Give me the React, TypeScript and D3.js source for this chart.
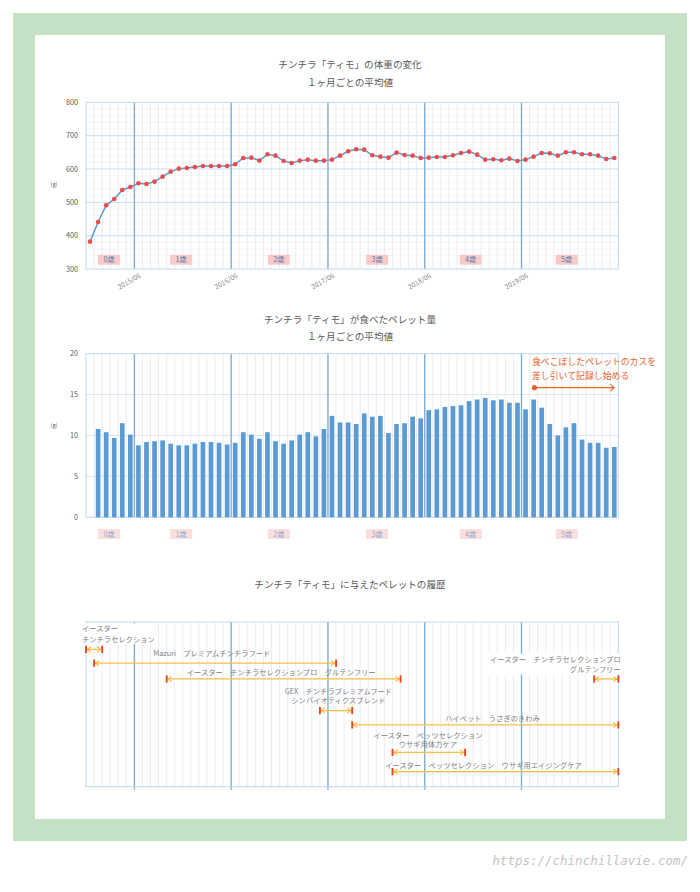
import React from 'react';
import * as d3 from 'd3';

// ---------- data ----------
const months = d3.timeMonth.range(new Date(2014, 11, 1), new Date(2020, 5, 1)); // 2014/12 .. 2020/05 (66)
const yearTickMonths = [6, 18, 30, 42, 54];
const yearTickLabels = ['2015/06', '2016/06', '2017/06', '2018/06', '2019/06'];
const ageLabels = ['0歳', '1歳', '2歳', '3歳', '4歳', '5歳'];
const ageCenters = [2.85, 11.8, 23.9, 36.1, 47.7, 59.6];

const weightTicks = [300, 400, 500, 600, 700, 800];
const weight = [
  382, 441, 491, 510, 537, 546, 557, 555, 562, 577,
  592, 601, 603, 606, 609, 609, 609, 609, 614, 633,
  634, 625, 644, 640, 624, 618, 625, 628, 625, 625,
  628, 640, 653, 659, 658, 641, 637, 634, 649, 642,
  640, 633, 634, 636, 636, 641, 648, 652, 643, 628,
  629, 626, 631, 624, 628, 637, 648, 647, 640, 650,
  650, 644, 644, 640, 630, 633,
];

const pelletTicks = [0, 5, 10, 15, 20];
const pellet: (number | null)[] = [
  null, 10.8, 10.4, 9.7, 11.5, 10.1, 8.8, 9.2, 9.3, 9.4,
  9.0, 8.8, 8.8, 9.0, 9.2, 9.2, 9.1, 8.9, 9.1, 10.4,
  10.1, 9.6, 10.4, 9.3, 9.0, 9.4, 10.1, 10.4, 9.9, 10.8,
  12.4, 11.6, 11.6, 11.4, 12.7, 12.3, 12.4, 10.3, 11.4, 11.5,
  12.3, 12.1, 13.1, 13.2, 13.5, 13.6, 13.7, 14.2, 14.4, 14.6,
  14.3, 14.4, 14.0, 14.0, 13.2, 14.4, 13.4, 11.4, 10.0, 11.0,
  11.5, 9.5, 9.1, 9.1, 8.5, 8.6,
];
const noteLines = ['食べこぼしたペレットのカスを', '差し引いて記録し始める'];
const noteStart = 55.6;
const noteEnd = 65.5;
const noteLevel = 15.85;

const historyNames = [
  ['イースター', 'チンチラセレクション'],
  ['Mazuri　プレミアムチンチラフード'],
  ['イースター　チンチラセレクションプロ　グルテンフリー'],
  ['GEX　チンチラプレミアムフード', 'シンバイオティクスブレンド'],
  ['ハイペット　うさぎのきわみ'],
  ['イースター　ペッツセレクション', 'ウサギ用体力ケア'],
  ['イースター　ペッツセレクション　ウサギ用エイジングケア'],
  ['イースター　チンチラセレクションプロ', 'グルテンフリー'],
];
const historyStart = [0, 1, 10, 29, 33, 38, 38, 63];
const historyEnd = [2, 31, 39, 33, 66, 47, 66, 66];
const historyLevel = [2.0, 3.0, 4.15, 6.45, 7.5, 9.5, 10.9, 4.15];

// label layout (month / level units)
const historyLabelLayout = [
  { x: -0.5, y: [0.44, 1.24], anchor: 'start', bg: true },
  { x: 15.6, y: [2.31], anchor: 'middle', bg: false },
  { x: 24.2, y: [3.66], anchor: 'middle', bg: false },
  { x: 31.3, y: [5.03, 5.73], anchor: 'middle', bg: false },
  { x: 50.4, y: [7.05], anchor: 'middle', bg: false },
  { x: 42.4, y: [8.23, 8.91], anchor: 'middle', bg: false },
  { x: 37.1, y: [10.47], anchor: 'start', bg: false },
  { x: 66.3, y: [2.72, 3.45], anchor: 'end', bg: true },
];

// ---------- styling ----------
const FONT = "'Noto Sans CJK JP','Noto Sans',sans-serif";
const GREEN = '#c5e1c5';
const BORDER = '#c0d8ee';
const MINOR = '#e3e9ef';
const YEAR = '#80aed3';
const TEXT = '#595959';

const N = months.length;
const x = d3.scaleLinear().domain([0, N]).range([86, 618.3]);
const monthLines = d3.range(1, N).filter((k) => !yearTickMonths.includes(k));

function VGrid({ top, bottom, ext = 0 }: { top: number; bottom: number; ext?: number }) {
  return (
    <g>
      {monthLines.map((k) => (
        <line key={k} x1={x(k)} x2={x(k)} y1={top} y2={bottom} stroke={MINOR} strokeWidth={0.8} />
      ))}
      {yearTickMonths.map((k) => (
        <line key={'y' + k} x1={x(k)} x2={x(k)} y1={top} y2={bottom + ext} stroke={YEAR} strokeWidth={1.4} />
      ))}
    </g>
  );
}

function AgeBoxes({ cy, fill, color }: { cy: number; fill: string; color: string }) {
  return (
    <g>
      {ageLabels.map((t, i) => (
        <g key={t}>
          <rect x={x(ageCenters[i]) - 11} y={cy - 5} width={22} height={10} fill={fill} />
          <text x={x(ageCenters[i])} y={cy} dy="0.35em" textAnchor="middle" fontSize={7.2} fill={color} fontFamily={FONT}>
            {t}
          </text>
        </g>
      ))}
    </g>
  );
}

function Title({ lines, cy }: { lines: string[]; cy: number[] }) {
  return (
    <g>
      {lines.map((l, i) => (
        <text key={i} x={350} y={cy[i]} dy="0.35em" textAnchor="middle" fontSize={9.6} fill={TEXT} fontFamily={FONT}>
          {l}
        </text>
      ))}
    </g>
  );
}

function WeightChart() {
  const top = 102.3, bottom = 269;
  const y = d3.scaleLinear().domain([300, 800]).range([bottom, top]);
  const minorH = d3.range(320, 800, 20).filter((v) => v % 100 !== 0);
  const line = d3
    .line<number>()
    .x((_, i) => x(i + 0.5))
    .y((v) => y(v));
  return (
    <g>
      <Title lines={['チンチラ「ティモ」の体重の変化', '１ヶ月ごとの平均値']} cy={[65, 82.3]} />
      {minorH.map((v) => (
        <line key={v} x1={x(0)} x2={x(N)} y1={y(v)} y2={y(v)} stroke="#eef2f7" strokeWidth={0.7} />
      ))}
      {weightTicks.slice(1, -1).map((v) => (
        <line key={v} x1={x(0)} x2={x(N)} y1={y(v)} y2={y(v)} stroke="#c8dcf0" strokeWidth={1} />
      ))}
      <VGrid top={top} bottom={bottom} />
      <rect x={x(0)} y={top} width={x(N) - x(0)} height={bottom - top} fill="none" stroke={BORDER} strokeWidth={1} />
      <AgeBoxes cy={259.7} fill="#f8cac7" color="#5a7fb0" />
      <path d={line(weight) || ''} fill="none" stroke="#5b9bd5" strokeWidth={1.5} />
      {weight.map((v, i) => (
        <circle key={i} cx={x(i + 0.5)} cy={y(v)} r={2.3} fill="#ef4b4b" />
      ))}
      {weightTicks.map((v) => (
        <text key={v} x={78} y={y(v)} dy="0.35em" textAnchor="end" fontSize={7.2} fill={TEXT} fontFamily={FONT}>
          {v}
        </text>
      ))}
      <text x={54} y={184} dy="0.35em" textAnchor="middle" fontSize={5.5} fill={TEXT} fontFamily={FONT}>
        (g)
      </text>
      {yearTickMonths.map((k, i) => (
        <text
          key={k}
          transform={`translate(${x(k) + 7},${277}) rotate(-30)`}
          textAnchor="end"
          fontSize={6.8}
          fill="#7f7f7f"
          fontFamily={FONT}
        >
          {yearTickLabels[i]}
        </text>
      ))}
    </g>
  );
}

function PelletChart() {
  const top = 353.7, bottom = 517.3;
  const y = d3.scaleLinear().domain([0, 20]).range([bottom, top]);
  const bw = (x(1) - x(0)) * 0.58;
  const nx1 = x(noteStart), nx2 = x(noteEnd), ny = y(noteLevel);
  return (
    <g>
      <Title lines={['チンチラ「ティモ」が食べたペレット量', '１ヶ月ごとの平均値']} cy={[320, 336.7]} />
      {pelletTicks.slice(1, -1).map((v) => (
        <line key={v} x1={x(0)} x2={x(N)} y1={y(v)} y2={y(v)} stroke="#dbe5ef" strokeWidth={1} />
      ))}
      <VGrid top={top} bottom={bottom} />
      <rect x={x(0)} y={top} width={x(N) - x(0)} height={bottom - top} fill="none" stroke={BORDER} strokeWidth={1} />
      {pellet.map((v, i) =>
        v == null ? null : (
          <rect key={i} x={x(i + 0.5) - bw / 2} y={y(v)} width={bw} height={y(0) - y(v)} fill="#5b9bd5" />
        )
      )}
      {pelletTicks.map((v) => (
        <text key={v} x={78} y={y(v)} dy="0.35em" textAnchor="end" fontSize={7.2} fill={TEXT} fontFamily={FONT}>
          {v}
        </text>
      ))}
      <text x={54} y={425} dy="0.35em" textAnchor="middle" fontSize={5.5} fill={TEXT} fontFamily={FONT}>
        (g)
      </text>
      <AgeBoxes cy={534} fill="#fbdedc" color="#8eaad0" />
      {noteLines.map((l, i) => (
        <text key={i} x={532} y={362.3 + i * 13.4} dy="0.35em" fontSize={8.9} fill="#e8632b" fontFamily={FONT}>
          {l}
        </text>
      ))}
      <line x1={nx1} x2={nx2} y1={ny} y2={ny} stroke="#e8632b" strokeWidth={1.2} />
      <circle cx={nx1} cy={ny} r={2.6} fill="#e8632b" />
      <polyline
        points={`${nx2 - 4},${ny - 3.5} ${nx2},${ny} ${nx2 - 4},${ny + 3.5}`}
        fill="none"
        stroke="#e8632b"
        strokeWidth={1.1}
      />
    </g>
  );
}

function HistoryChart() {
  const top = 622, bottom = 786.7;
  const y = d3.scaleLinear().domain([0, 12]).range([top, bottom]);
  const fs = 7.3;
  const ARROW = '#fbbd45';
  const CAP = '#e4481f';
  return (
    <g>
      <Title lines={['チンチラ「ティモ」に与えたペレットの履歴']} cy={[585]} />
      <VGrid top={top} bottom={bottom} ext={3} />
      <rect x={x(0)} y={top} width={x(N) - x(0)} height={bottom - top} fill="none" stroke={BORDER} strokeWidth={1} />
      {historyNames.map((lines, i) => {
        const L = historyLabelLayout[i];
        if (!L.bg) return null;
        const w = d3.max(lines, (l) => l.length * fs) || 0;
        const lx = x(L.x);
        const x0 = L.anchor === 'start' ? lx - 1 : L.anchor === 'end' ? lx - w - 2 : lx - w / 2 - 1;
        const y0 = y(L.y[0]) - 5.5;
        const y1 = y(L.y[L.y.length - 1]) + 5;
        return <rect key={'bg' + i} x={x0} y={Math.max(y0, top + 1.5)} width={w + 3} height={y1 - Math.max(y0, top + 1.5)} fill="#fff" />;
      })}
      {historyNames.map((lines, i) => {
        const x1 = x(historyStart[i]);
        const x2 = x(historyEnd[i]);
        const yy = y(historyLevel[i]);
        return (
          <g key={i}>
            <line x1={x1} x2={x2} y1={yy} y2={yy} stroke={ARROW} strokeWidth={1.3} />
            <polyline points={`${x1 + 5},${yy - 2.6} ${x1 + 1.5},${yy} ${x1 + 5},${yy + 2.6}`} fill="none" stroke={ARROW} strokeWidth={1.2} />
            <polyline points={`${x2 - 5},${yy - 2.6} ${x2 - 1.5},${yy} ${x2 - 5},${yy + 2.6}`} fill="none" stroke={ARROW} strokeWidth={1.2} />
            <rect x={x1 - 0.9} y={yy - 3.6} width={1.9} height={7.2} fill={CAP} />
            <rect x={x2 - 0.9} y={yy - 3.6} width={1.9} height={7.2} fill={CAP} />
          </g>
        );
      })}
      {historyNames.map((lines, i) => {
        const L = historyLabelLayout[i];
        return (
          <g key={'t' + i}>
            {lines.map((l, j) => (
              <text
                key={j}
                x={x(L.x)}
                y={y(L.y[j])}
                dy="0.35em"
                textAnchor={L.anchor as any}
                fontSize={fs}
                fill="#808080"
                fontFamily={FONT}
              >
                {l}
              </text>
            ))}
          </g>
        );
      })}
    </g>
  );
}

export default function App() {
  return (
    <div style={{ position: 'absolute', left: 0, top: 0, width: 700, height: 892, background: '#fff' }}>
      <svg width={700} height={892} viewBox="0 0 700 892" style={{ display: 'block' }}>
        <rect x={0} y={0} width={700} height={892} fill="#fff" />
        <rect x={13} y={13} width={674} height={828} fill={GREEN} />
        <rect x={35} y={35} width={630} height={784} fill="#fff" />
        <WeightChart />
        <PelletChart />
        <HistoryChart />
        <text x={688} y={861} dy="0.35em" textAnchor="end" fontSize={12.5} fill="#c4c4c4" fontFamily="'DejaVu Sans Mono',monospace" fontStyle="italic">
          https://chinchillavie.com/
        </text>
      </svg>
    </div>
  );
}
